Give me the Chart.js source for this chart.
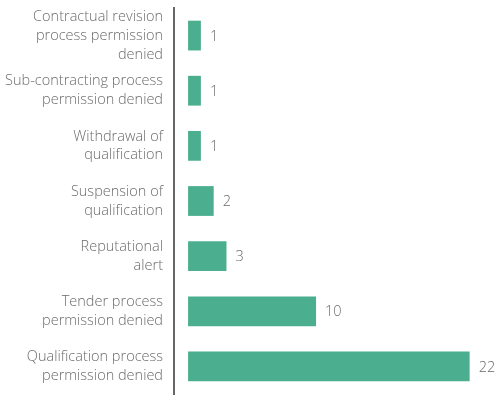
<!DOCTYPE html>
<html>
<head>
<meta charset="utf-8">
<script src="https://cdn.jsdelivr.net/npm/chart.js@4"></script>
<style>
  html, body { margin: 0; padding: 0; background: #fff; }
  #wrap { width: 501px; height: 405px; }
</style>
</head>
<body>
<div id="wrap"><canvas id="barChart"></canvas></div>
<script>
const categories = [
    ["Contractual revision", "process permission", "denied"],
    ["Sub-contracting process", "permission denied"],
    ["Withdrawal of", "qualification"],
    ["Suspension of", "qualification"],
    ["Reputational", "alert"],
    ["Tender process", "permission denied"],
    ["Qualification process", "permission denied"]
];

const counts = [1, 1, 1, 2, 3, 10, 22];

const barColor = "#4bae8f";
const textColor = "#6b6b6b";

// value labels at the end of each bar
const valueLabels = {
    id: "valueLabels",
    afterDatasetsDraw(chart) {
        const ctx = chart.ctx;
        const meta = chart.getDatasetMeta(0);
        ctx.save();
        ctx.font = "300 14.5px 'Open Sans'";
        ctx.fillStyle = textColor;
        ctx.textAlign = "left";
        ctx.textBaseline = "middle";
        meta.data.forEach((bar, i) => {
            ctx.fillText(String(counts[i]), bar.x + 9, bar.y + 1);
        });
        ctx.restore();
    }
};

new Chart(document.getElementById("barChart"), {

    type: "bar",

    data: {
        labels: categories,
        datasets: [{
            data: counts,
            backgroundColor: barColor,
            barPercentage: 0.9,
            categoryPercentage: 0.6
        }]
    },

    options: {
        indexAxis: "y",
        responsive: true,
        maintainAspectRatio: false,
        animation: false,
        layout: {
            padding: { top: 8, bottom: 11, left: 0, right: 0 }
        },
        plugins: {
            legend: { display: false },
            tooltip: { enabled: false }
        },
        scales: {
            x: {
                display: false,
                min: -1.1,
                max: 24.45
            },
            y: {
                afterFit(scale) {
                    scale.width = 174;
                    scale.paddingTop = 0;
                    scale.paddingBottom = 0;
                },
                grid: { display: false, drawTicks: false },
                border: { display: true, color: "#666", width: 2 },
                ticks: {
                    autoSkip: false,
                    padding: 11,
                    color: textColor,
                    font: { family: "'Open Sans'", size: 14.5, weight: 300, lineHeight: 1.3 }
                }
            }
        }
    },

    plugins: [valueLabels]
});
</script>
</body>
</html>
